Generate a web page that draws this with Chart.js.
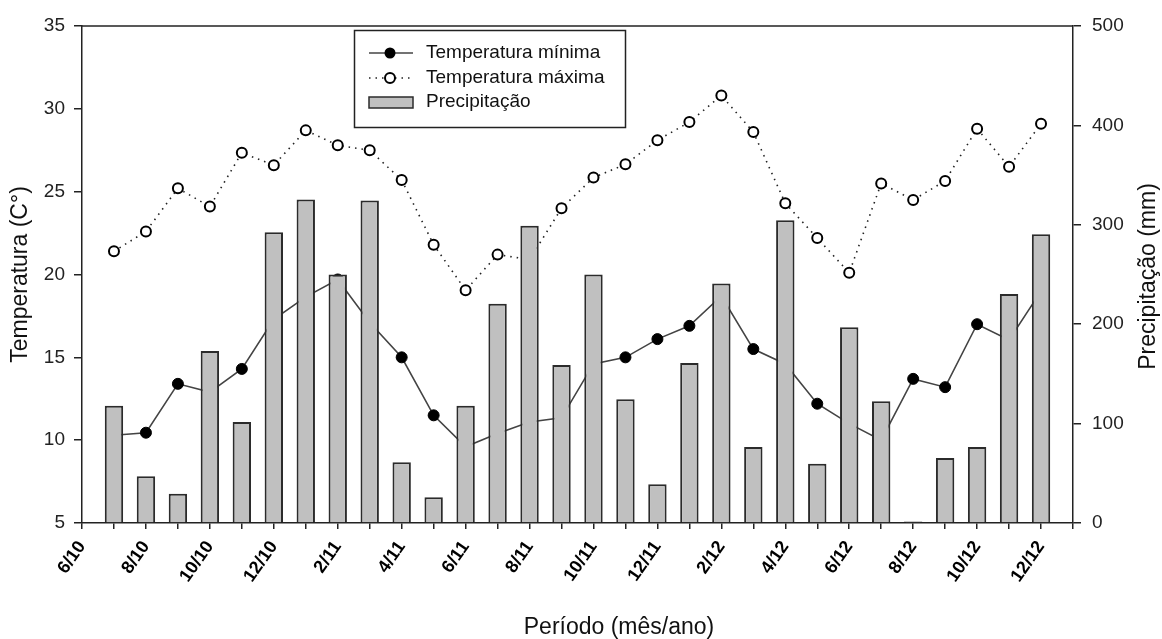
<!DOCTYPE html>
<html>
<head>
<meta charset="utf-8">
<script src="https://cdn.jsdelivr.net/npm/chart.js@4"></script>
<style>
  body { margin: 0; background: #fff; }
  canvas { display: block; }
</style>
</head>
<body>
<canvas id="chart" width="1162" height="639"></canvas>
<script>
// months on the x axis, 6/10 .. 1/13 (data sits on 7/10 .. 12/12)
const months = ["6/10", "7/10", "8/10", "9/10", "10/10", "11/10", "12/10",
  "1/11", "2/11", "3/11", "4/11", "5/11", "6/11", "7/11", "8/11", "9/11", "10/11", "11/11", "12/11",
  "1/12", "2/12", "3/12", "4/12", "5/12", "6/12", "7/12", "8/12", "9/12", "10/12", "11/12", "12/12",
  "1/13"];
const tickLabels = ["6/10", "8/10", "10/10", "12/10", "2/11", "4/11", "6/11", "8/11",
  "10/11", "12/11", "2/12", "4/12", "6/12", "8/12", "10/12", "12/12"];

// 7/10 .. 12/12
const tempMin = [10.3, 10.45, 13.4, 12.9, 14.3, 17.3, 18.65, 19.7, 17.1, 15.0,
  11.5, 9.6, 10.4, 11.1, 11.35, 14.6, 15.0, 16.1, 16.9, 18.7,
  15.5, 14.6, 12.2, 11.0, 10.0, 13.7, 13.2, 17.0, 16.05, 19.0];
const tempMax = [21.4, 22.6, 25.2, 24.1, 27.35, 26.6, 28.7, 27.8, 27.5, 25.7,
  21.8, 19.05, 21.2, 20.9, 24.0, 25.85, 26.65, 28.1, 29.2, 30.8,
  28.6, 24.3, 22.2, 20.1, 25.5, 24.5, 25.65, 28.8, 26.5, 29.1];
const precip = [118, 47, 29.5, 173, 101.5, 292.5, 325.5, 250, 324.5, 61,
  26, 118, 220.5, 299, 159, 250, 124.5, 39, 161, 241,
  76.5, 304.5, 59.5, 197, 122.5, 1.5, 65.5, 76.5, 230.5, 290.5];

const tempTicks = { min: 5, max: 35, step: 5 };
const precipTicks = { min: 0, max: 500, step: 100 };

const FONT = "'Liberation Sans', Arial, sans-serif";

// pad with the empty 6/10 and 1/13 slots
const pad = arr => [null, ...arr, null];

// legend box, axis titles, top frame line
const extras = {
  id: "extras",
  afterDraw(chart) {
    const ctx = chart.ctx;
    const a = chart.chartArea;
    ctx.save();
    ctx.strokeStyle = "#222";
    ctx.lineWidth = 1.5;
    ctx.beginPath();
    ctx.moveTo(a.left, a.top);
    ctx.lineTo(a.right, a.top);
    ctx.stroke();

    // legend
    ctx.fillStyle = "#fff";
    ctx.fillRect(354, 30, 271, 97);
    ctx.strokeRect(354.5, 30.5, 271, 97);
    ctx.font = "19px " + FONT;
    ctx.textBaseline = "middle";
    ctx.textAlign = "left";

    // row 1
    ctx.strokeStyle = "#444";
    ctx.lineWidth = 1.5;
    ctx.beginPath(); ctx.moveTo(369, 53); ctx.lineTo(413, 53); ctx.stroke();
    ctx.fillStyle = "#000";
    ctx.beginPath(); ctx.arc(390, 53, 5.5, 0, Math.PI * 2); ctx.fill();
    ctx.fillStyle = "#111";
    ctx.fillText("Temperatura mínima", 426, 53);

    // row 2
    ctx.strokeStyle = "#222";
    ctx.setLineDash([1.5, 5]);
    ctx.beginPath(); ctx.moveTo(369, 78); ctx.lineTo(413, 78); ctx.stroke();
    ctx.setLineDash([]);
    ctx.fillStyle = "#fff";
    ctx.lineWidth = 2;
    ctx.strokeStyle = "#000";
    ctx.beginPath(); ctx.arc(390, 78, 5, 0, Math.PI * 2); ctx.fill(); ctx.stroke();
    ctx.fillStyle = "#111";
    ctx.fillText("Temperatura máxima", 426, 78);

    // row 3
    ctx.fillStyle = "#c0c0c0";
    ctx.fillRect(369, 97, 44, 11);
    ctx.strokeStyle = "#2b2b2b";
    ctx.lineWidth = 1.5;
    ctx.strokeRect(369, 97, 44, 11);
    ctx.fillStyle = "#111";
    ctx.fillText("Precipitação", 426, 102);

    // axis titles
    ctx.font = "23px " + FONT;
    ctx.textAlign = "center";
    ctx.fillText("Período (mês/ano)", 619, 628);

    const midY = (a.top + a.bottom) / 2;
    ctx.translate(21, midY);
    ctx.rotate(-Math.PI / 2);
    ctx.fillText("Temperatura (C°)", 0, 0);
    ctx.setTransform(1, 0, 0, 1, 0, 0);
    ctx.translate(1149, midY + 2);
    ctx.rotate(-Math.PI / 2);
    ctx.fillText("Precipitação (mm)", 0, 0);
    ctx.restore();
  }
};

const ctx = document.getElementById("chart").getContext("2d");
new Chart(ctx, {
  type: "bar",
  data: {
    labels: months,
    datasets: [
      {
        type: "bar",
        label: "Precipitação",
        data: pad(precip),
        yAxisID: "yP",
        backgroundColor: "#c0c0c0",
        borderColor: "#2b2b2b",
        borderWidth: 2,
        barPercentage: 0.575,
        categoryPercentage: 1,
        order: 0
      },
      {
        type: "line",
        label: "Temperatura mínima",
        data: pad(tempMin),
        yAxisID: "yT",
        borderColor: "#444",
        borderWidth: 1.6,
        pointRadius: 5.5,
        pointBackgroundColor: "#000",
        pointBorderColor: "#000",
        pointBorderWidth: 1,
        tension: 0,
        order: 1
      },
      {
        type: "line",
        label: "Temperatura máxima",
        data: pad(tempMax),
        yAxisID: "yT",
        borderColor: "#222",
        borderWidth: 1.6,
        borderDash: [1.5, 5],
        pointRadius: 5,
        pointBackgroundColor: "#fff",
        pointBorderColor: "#000",
        pointBorderWidth: 2,
        tension: 0,
        order: 2
      }
    ]
  },
  options: {
    responsive: false,
    animation: false,
    devicePixelRatio: 1,
    layout: { padding: { top: 26, left: 0, right: 0, bottom: 0 } },
    plugins: { legend: { display: false }, tooltip: { enabled: false } },
    scales: {
      x: {
        type: "category",
        offset: false,
        grid: { offset: false, drawOnChartArea: false, drawTicks: true, tickLength: 6, color: "#222", lineWidth: 1.5 },
        border: { color: "#222", width: 1.5 },
        ticks: {
          autoSkip: false,
          minRotation: 55,
          maxRotation: 55,
          padding: 8,
          color: "#000",
          font: { family: FONT, size: 18, weight: "bold" },
          callback: (v, i) => tickLabels.includes(months[i]) ? months[i] : ""
        },
        afterFit: s => { s.height = 116; }
      },
      yT: {
        position: "left",
        min: tempTicks.min,
        max: tempTicks.max,
        grid: { drawOnChartArea: false, tickLength: 8, color: "#222", lineWidth: 1.5 },
        border: { color: "#222", width: 1.5 },
        ticks: { stepSize: tempTicks.step, padding: 9, color: "#222", font: { family: FONT, size: 19 } },
        afterFit: s => { s.width = 82; }
      },
      yP: {
        position: "right",
        min: precipTicks.min,
        max: precipTicks.max,
        grid: { drawOnChartArea: false, tickLength: 8, color: "#222", lineWidth: 1.5 },
        border: { color: "#222", width: 1.5 },
        ticks: { stepSize: precipTicks.step, padding: 11, color: "#222", font: { family: FONT, size: 19 } },
        afterFit: s => { s.width = 89; }
      }
    }
  },
  plugins: [extras]
});
</script>
</body>
</html>
